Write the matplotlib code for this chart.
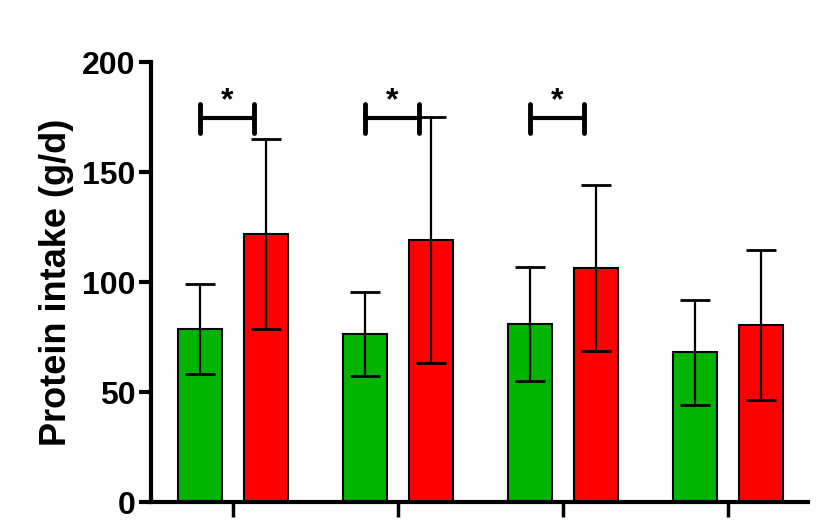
import numpy as np
import matplotlib.pyplot as plt

plt.rcParams['font.family'] = ['Liberation Sans', 'DejaVu Sans']
plt.rcParams['font.weight'] = 'bold'

groups = ['', '', '', '']
green_mean = [78.5, 76.4, 80.8, 68.0]
green_sd = [20.5, 19.2, 26.0, 23.7]
red_mean = [121.8, 119.1, 106.5, 80.5]
red_sd = [43.2, 56.0, 37.8, 34.0]
sig_groups = [0, 1, 2]

x = np.arange(len(groups))
w = 0.27
off = 0.2

fig = plt.figure(figsize=(8.32, 5.22), dpi=100)
ax = fig.add_axes([0.1815, 0.0383, 0.7895, 0.8427])

ax.bar(x - off, green_mean, w, color='#00b400', edgecolor='black', linewidth=1.5, zorder=2)
ax.bar(x + off, red_mean, w, color='#ff0000', edgecolor='black', linewidth=1.5, zorder=2)
ax.errorbar(x - off, green_mean, yerr=green_sd, fmt='none', ecolor='black',
            elinewidth=1.6, capsize=11, capthick=2, zorder=3)
ax.errorbar(x + off, red_mean, yerr=red_sd, fmt='none', ecolor='black',
            elinewidth=1.6, capsize=11, capthick=2, zorder=3)

# significance brackets
for g in sig_groups:
    x0, x1, yb = g - 0.2, g + 0.125, 174.5
    ax.plot([x0, x1], [yb, yb], color='black', lw=3, solid_capstyle='butt', zorder=4)
    ax.plot([x0, x0], [yb - 6.5, yb + 6.5], color='black', lw=3.5, solid_capstyle='round', zorder=4)
    ax.plot([x1, x1], [yb - 6.5, yb + 6.5], color='black', lw=3.5, solid_capstyle='round', zorder=4)
    ax.text((x0 + x1) / 2, yb + 1, '*', ha='center', va='bottom', fontsize=23,
            fontweight='bold')

ax.set_xlim(-0.497, 3.485)
ax.set_ylim(0, 200)
ax.set_yticks([0, 50, 100, 150, 200])
ax.set_xticks(x)
ax.set_xticklabels(groups)
ax.set_ylabel('Protein intake (g/d)', fontsize=26, fontweight='bold', labelpad=6)

for s in ['top', 'right']:
    ax.spines[s].set_visible(False)
for s in ['left', 'bottom']:
    ax.spines[s].set_linewidth(3)
ax.tick_params(axis='y', length=9, width=3, labelsize=23, pad=2)
ax.tick_params(axis='x', length=11, width=2.5)
for t in ax.get_yticklabels():
    t.set_fontweight('bold')

plt.savefig('out.png', dpi=100)
